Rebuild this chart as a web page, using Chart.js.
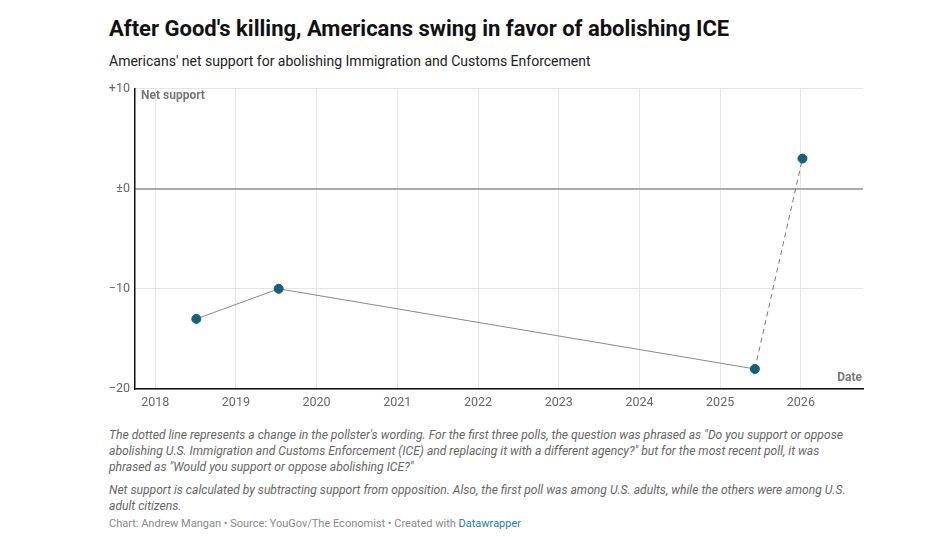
<!DOCTYPE html>
<html>
<head>
<meta charset="utf-8">
<script src="https://cdn.jsdelivr.net/npm/chart.js@4/dist/chart.umd.min.js"></script>
<style>
    body { margin: 0; background: #fff; font-family: Roboto, sans-serif; width: 932px; height: 537px; position: relative; overflow: hidden; }
    #title { position: absolute; left: 109px; top: 16px; font-size: 22px; font-weight: 700; color: #111; white-space: nowrap; }
    #subtitle { position: absolute; left: 109px; top: 53px; font-size: 14px; color: #222; white-space: nowrap; }
    #wrap { position: absolute; left: 100px; top: 76px; width: 770px; height: 337px; }
    #notes { position: absolute; left: 109px; top: 427px; font-size: 12.12px; line-height: 16px; font-style: italic; color: #666; white-space: nowrap; }
    #notes p { margin: 0 0 7px 0; }
    #footer { position: absolute; left: 109px; top: 517px; font-size: 11px; color: #888; white-space: nowrap; }
    #footer span { color: #1d81a2; }
</style>
</head>
<body>
<div id="title">After Good's killing, Americans swing in favor of abolishing ICE</div>
<div id="subtitle">Americans' net support for abolishing Immigration and Customs Enforcement</div>
<div id="wrap"><canvas id="chart"></canvas></div>
<div id="notes">
    <p>The dotted line represents a change in the pollster's wording. For the first three polls, the question was phrased as "Do you support or oppose<br>abolishing U.S. Immigration and Customs Enforcement (ICE) and replacing it with a different agency?" but for the most recent poll, it was<br>phrased as "Would you support or oppose abolishing ICE?"</p>
    <p>Net support is calculated by subtracting support from opposition. Also, the first poll was among U.S. adults, while the others were among U.S.<br>adult citizens.</p>
</div>
<div id="footer">Chart: Andrew Mangan • Source: YouGov/The Economist • Created with <span>Datawrapper</span></div>
<script>
// poll dates as decimal years, net support values
const pollDates = [2018.51, 2019.53, 2025.43, 2026.02];
const netSupport = [-13, -10, -18, 3];
const yearTicks = [2018, 2019, 2020, 2021, 2022, 2023, 2024, 2025, 2026];
const yTicks = [10, 0, -10, -20];
const yTickLabels = ["+10", "±0", "\u221210", "\u221220"];

const points = pollDates.map((d, i) => ({ x: d, y: netSupport[i] }));

// axis titles drawn inside the plot area
const axisLabels = {
    id: "axisLabels",
    afterDraw(chart) {
        const c = chart.ctx;
        const a = chart.chartArea;
        c.save();
        c.font = "bold 12px Roboto";
        c.fillStyle = "#777";
        c.textBaseline = "middle";
        c.textAlign = "left";
        c.fillText("Net support", a.left + 6, a.top + 7);
        c.textAlign = "right";
        c.fillText("Date", a.right - 1, a.bottom - 11);
        c.restore();
    }
};

const ctx = document.getElementById("chart").getContext("2d");
new Chart(ctx, {
    type: "line",
    data: {
        datasets: [{
            data: points,
            borderColor: "#888",
            borderWidth: 1,
            pointBackgroundColor: "#15607a",
            pointBorderColor: "#15607a",
            pointRadius: 4.5,
            tension: 0,
            segment: {
                borderDash: c => c.p1DataIndex === pollDates.length - 1 ? [5, 4] : undefined,
                borderColor: c => c.p1DataIndex === pollDates.length - 1 ? "#777" : "#888"
            }
        }]
    },
    options: {
        responsive: true,
        maintainAspectRatio: false,
        animation: false,
        layout: { padding: { top: 8, right: 7, left: 0, bottom: 0 } },
        plugins: { legend: { display: false }, tooltip: { enabled: false } },
        scales: {
            x: {
                type: "linear",
                min: 2017.75,
                max: 2026.77,
                afterBuildTicks: axis => { axis.ticks = yearTicks.map(v => ({ value: v })); },
                afterFit: axis => { axis.height = 24; },
                ticks: {
                    color: "#666",
                    font: { family: "Roboto", size: 12.5 },
                    padding: 6,
                    maxRotation: 0,
                    callback: v => String(v)
                },
                grid: { color: "#e6e6e6", lineWidth: 1, drawTicks: false },
                border: { display: true, color: "#111", width: 1.5 }
            },
            y: {
                min: -20,
                max: 10,
                afterBuildTicks: axis => { axis.ticks = yTicks.map(v => ({ value: v })); },
                afterFit: axis => { axis.width = 35; },
                ticks: {
                    color: "#666",
                    font: { family: "Roboto", size: 12.5 },
                    padding: 5,
                    callback: v => yTickLabels[yTicks.indexOf(v)]
                },
                grid: {
                    color: c => c.tick && c.tick.value === 0 ? "#aaa" : "#e6e6e6",
                    lineWidth: c => c.tick && c.tick.value === 0 ? 2 : 1,
                    drawTicks: false
                },
                border: { display: true, color: "#111", width: 1.5 }
            }
        }
    },
    plugins: [axisLabels]
});
</script>
</body>
</html>
